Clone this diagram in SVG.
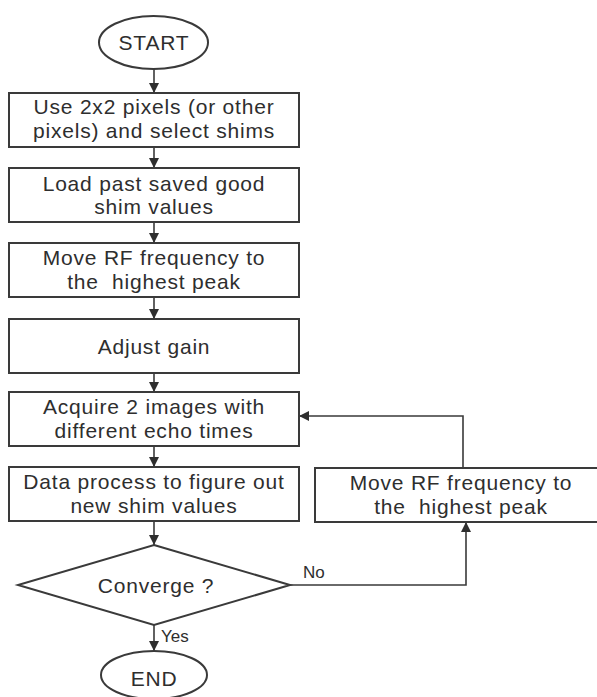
<svg xmlns="http://www.w3.org/2000/svg" width="597" height="697" viewBox="0 0 597 697">
  <defs>
    <style>
      .shape { fill: #ffffff; stroke: #3a3a3a; stroke-width: 2; }
      .line { fill: none; stroke: #3a3a3a; stroke-width: 1.6; }
      .label { font-family: "Liberation Sans", Arial, sans-serif; font-size: 21px; fill: #2e2e2e; text-anchor: middle; letter-spacing: 0.8px; white-space: pre; }
      .small { font-family: "Liberation Sans", Arial, sans-serif; font-size: 17px; fill: #2e2e2e; white-space: pre; }
    </style>
    <marker id="arrow" viewBox="0 0 10 10" refX="10" refY="5" markerWidth="10" markerHeight="10" markerUnits="userSpaceOnUse" orient="auto">
      <path d="M0,0 L10,5 L0,10 Z" fill="#2e2e2e"/>
    </marker>
  </defs>

  <rect width="597" height="697" fill="#ffffff"/>

  <!-- connectors -->
  <g id="connectors">
    <line class="line" x1="154" y1="69" x2="154" y2="93" marker-end="url(#arrow)"/>
    <line class="line" x1="154" y1="147" x2="154" y2="168" marker-end="url(#arrow)"/>
    <line class="line" x1="154" y1="222" x2="154" y2="243" marker-end="url(#arrow)"/>
    <line class="line" x1="154" y1="297" x2="154" y2="319" marker-end="url(#arrow)"/>
    <line class="line" x1="154" y1="373" x2="154" y2="392" marker-end="url(#arrow)"/>
    <line class="line" x1="154" y1="446" x2="154" y2="467" marker-end="url(#arrow)"/>
    <line class="line" x1="154" y1="521" x2="154" y2="545" marker-end="url(#arrow)"/>
    <line class="line" x1="154" y1="625" x2="154" y2="651" marker-end="url(#arrow)"/>
    <polyline class="line" points="290,585 466,585 466,522" marker-end="url(#arrow)"/>
    <polyline class="line" points="463,468 463,416 299,416" marker-end="url(#arrow)"/>
    <text class="small" x="303" y="578">No</text>
    <text class="small" x="161" y="642">Yes</text>
  </g>

  <g id="start">
    <ellipse class="shape" cx="153.5" cy="42.5" rx="54.5" ry="26.5"/>
    <text class="label" x="154" y="50">START</text>
  </g>

  <g id="select-pixels">
    <rect class="shape" x="9" y="93" width="290" height="54"/>
    <text class="label" x="154" y="114">Use 2x2 pixels (or other</text>
    <text class="label" x="154" y="138">pixels) and select shims</text>
  </g>

  <g id="load-shims">
    <rect class="shape" x="9" y="168" width="290" height="54"/>
    <text class="label" x="154" y="190.5">Load past saved good</text>
    <text class="label" x="154" y="214">shim values</text>
  </g>

  <g id="move-rf">
    <rect class="shape" x="9" y="243" width="290" height="54"/>
    <text class="label" x="154" y="265">Move RF frequency to</text>
    <text class="label" x="154" y="289">the  highest peak</text>
  </g>

  <g id="adjust-gain">
    <rect class="shape" x="9" y="319" width="290" height="54"/>
    <text class="label" x="154" y="353.5">Adjust gain</text>
  </g>

  <g id="acquire">
    <rect class="shape" x="9" y="392" width="290" height="54"/>
    <text class="label" x="154" y="413.5">Acquire 2 images with</text>
    <text class="label" x="154" y="437.5">different echo times</text>
  </g>

  <g id="data-process">
    <rect class="shape" x="9" y="467" width="290" height="54"/>
    <text class="label" x="154" y="489">Data process to figure out</text>
    <text class="label" x="154" y="513">new shim values</text>
  </g>

  <g id="converge">
    <polygon class="shape" points="154,545 290,585 154,625 18,585"/>
    <text class="label" x="156" y="592.5">Converge ?</text>
  </g>

  <g id="move-rf-loop">
    <rect class="shape" x="315" y="468" width="292" height="54"/>
    <text class="label" x="461" y="489.5">Move RF frequency to</text>
    <text class="label" x="461" y="514">the  highest peak</text>
  </g>

  <g id="end">
    <ellipse class="shape" cx="154" cy="675" rx="53" ry="24"/>
    <text class="label" x="154" y="686">END</text>
  </g>
</svg>
